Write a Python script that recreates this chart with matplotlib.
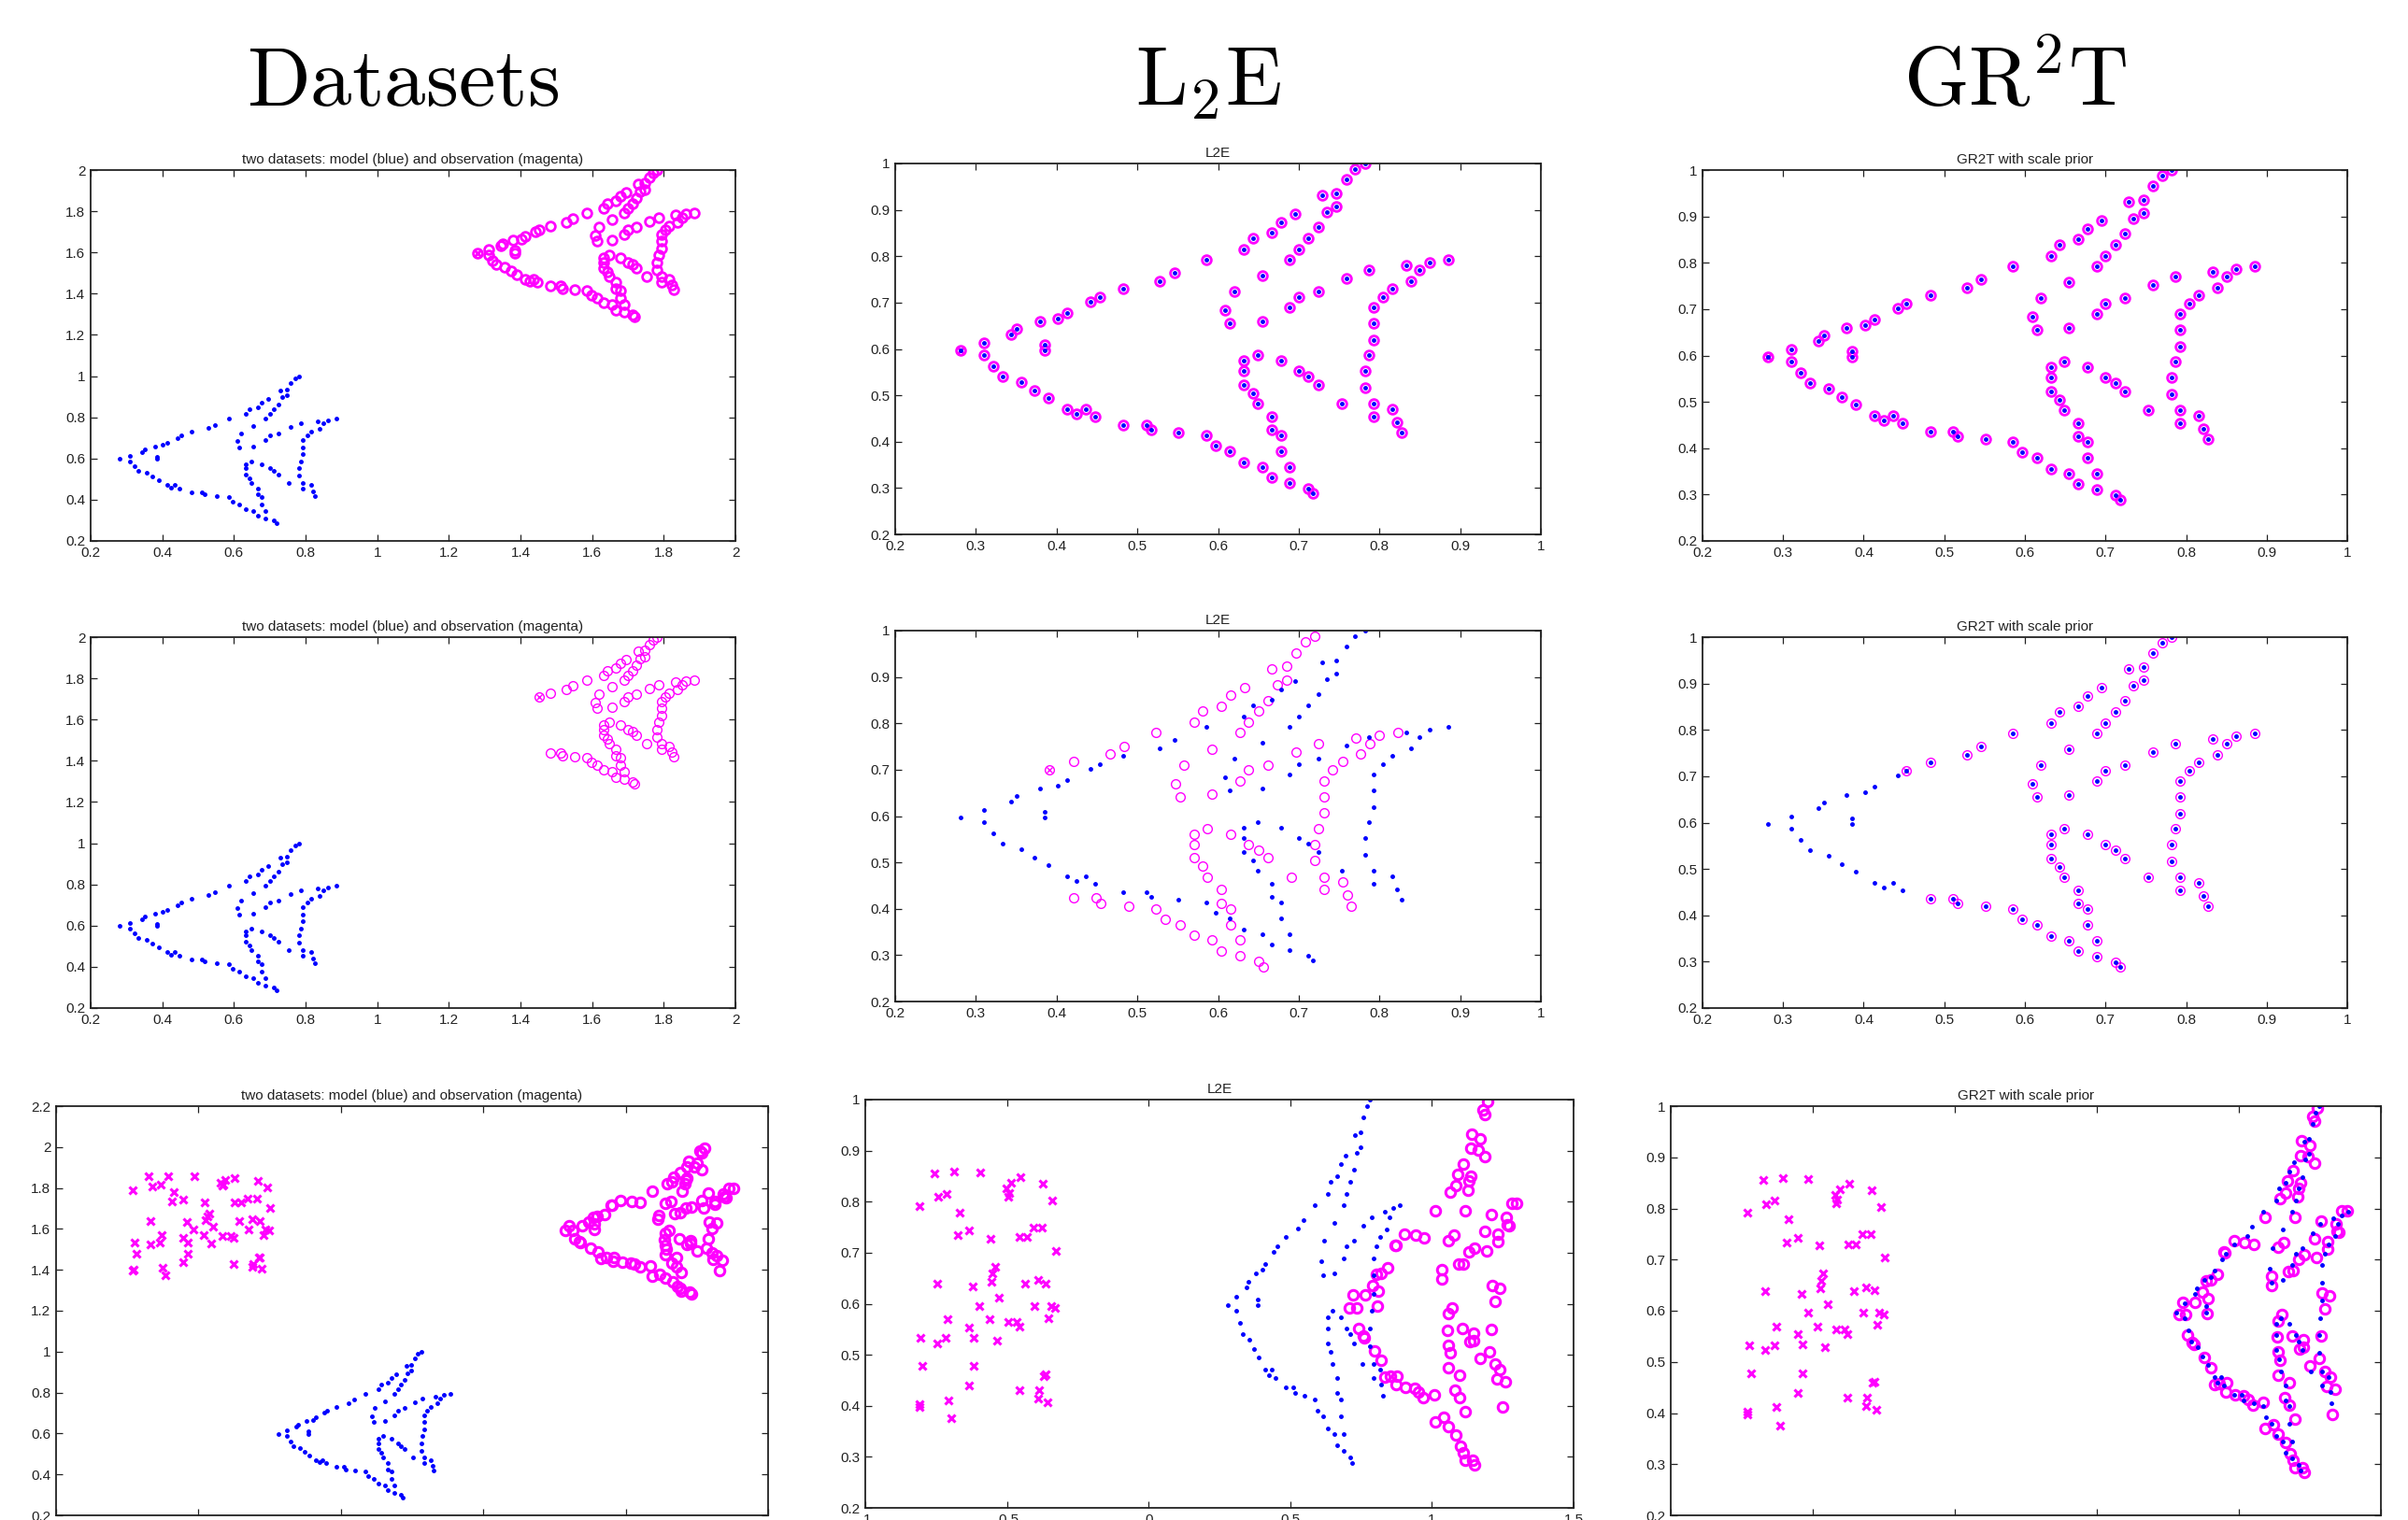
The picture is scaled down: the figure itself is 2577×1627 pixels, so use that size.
import matplotlib
matplotlib.use("Agg")
import matplotlib.pyplot as plt
from matplotlib.ticker import FormatStrFormatter
import numpy as np

plt.rcParams['font.family'] = ['Liberation Sans', 'DejaVu Sans']
plt.rcParams['mathtext.fontset'] = 'cm'

# fish model points (read from the L2E / GR2T panels of row 1)
fish_x = [0.281, 0.310, 0.310, 0.322, 0.333, 0.344, 0.351, 0.356, 0.373, 0.379,
          0.385, 0.385, 0.390, 0.402, 0.413, 0.413, 0.425, 0.436, 0.442, 0.448,
          0.453, 0.483, 0.483, 0.511, 0.517, 0.528, 0.546, 0.551, 0.585, 0.585,
          0.597,
          0.782, 0.770, 0.759, 0.729, 0.747, 0.747, 0.735, 0.695, 0.678, 0.666,
          0.643, 0.632, 0.724, 0.712, 0.700, 0.689, 0.655, 0.620, 0.609, 0.615,
          0.655, 0.689, 0.700, 0.724, 0.759, 0.787, 0.833, 0.850, 0.862, 0.885,
          0.839, 0.816, 0.804, 0.793, 0.793, 0.793, 0.787, 0.782, 0.782, 0.793,
          0.793, 0.816, 0.822, 0.827, 0.753, 0.649, 0.632, 0.632, 0.632, 0.643,
          0.649, 0.666, 0.666, 0.678, 0.678, 0.678, 0.700, 0.712, 0.724, 0.615,
          0.632, 0.655, 0.666, 0.689, 0.689, 0.712, 0.718]
fish_y = [0.597, 0.614, 0.586, 0.562, 0.540, 0.632, 0.643, 0.529, 0.511, 0.660,
          0.609, 0.597, 0.494, 0.666, 0.678, 0.471, 0.460, 0.471, 0.701, 0.454,
          0.712, 0.730, 0.436, 0.436, 0.425, 0.747, 0.764, 0.419, 0.793, 0.413,
          0.391,
          1.000, 0.988, 0.965, 0.931, 0.936, 0.907, 0.896, 0.891, 0.873, 0.850,
          0.839, 0.815, 0.862, 0.839, 0.815, 0.793, 0.758, 0.723, 0.683, 0.655,
          0.660, 0.689, 0.712, 0.723, 0.752, 0.770, 0.781, 0.770, 0.787, 0.793,
          0.746, 0.730, 0.712, 0.689, 0.655, 0.620, 0.586, 0.552, 0.517, 0.482,
          0.454, 0.471, 0.442, 0.419, 0.482, 0.586, 0.574, 0.552, 0.523, 0.505,
          0.482, 0.454, 0.425, 0.413, 0.379, 0.574, 0.552, 0.540, 0.523, 0.379,
          0.356, 0.345, 0.322, 0.345, 0.311, 0.299, 0.288]

# row 2: observation keeps only the fish points right of this x
partial_cut = 0.45

# row 3: noisy observation fish and outliers, as placed in the L2E panel
noisy_x = [1.197, 1.179, 1.188, 1.141, 1.171, 1.136, 1.162, 1.188, 1.110, 1.090,
           1.136, 1.083, 1.131, 1.128, 1.066, 1.012, 1.119, 1.210, 1.283, 1.300,
           1.262, 1.266, 1.271, 1.188, 1.079, 1.059, 1.234, 1.234, 1.193, 0.903,
           0.941, 0.972, 0.869, 0.872, 1.131, 1.150, 1.036, 1.034, 1.093, 1.110,
           0.845, 0.821, 0.805, 0.791, 0.810, 0.721, 0.766, 0.709, 0.734, 0.809,
           1.214, 1.240, 1.222, 1.072, 1.059, 1.055, 1.107, 1.209, 1.059, 1.064,
           1.133, 1.148, 1.148, 0.740, 0.757, 0.762, 0.797, 0.822, 1.171, 1.202,
           1.224, 1.241, 1.228, 1.259, 1.059, 1.097, 0.834, 0.852, 0.878, 0.874,
           0.907, 0.938, 0.952, 0.969, 1.007, 1.081, 1.098, 1.248, 1.012, 1.041,
           1.059, 1.086, 1.116, 1.102, 1.110, 1.116, 1.145, 1.150]
noisy_y = [0.996, 0.979, 0.971, 0.932, 0.923, 0.904, 0.902, 0.888, 0.874, 0.854,
           0.850, 0.831, 0.840, 0.823, 0.819, 0.783, 0.783, 0.775, 0.796, 0.796,
           0.770, 0.755, 0.753, 0.741, 0.734, 0.724, 0.736, 0.721, 0.704, 0.737,
           0.734, 0.729, 0.715, 0.714, 0.701, 0.709, 0.667, 0.649, 0.677, 0.678,
           0.671, 0.660, 0.658, 0.636, 0.624, 0.617, 0.617, 0.592, 0.592, 0.595,
           0.635, 0.630, 0.604, 0.592, 0.580, 0.548, 0.551, 0.550, 0.519, 0.503,
           0.525, 0.543, 0.528, 0.552, 0.537, 0.534, 0.508, 0.489, 0.492, 0.506,
           0.482, 0.471, 0.452, 0.447, 0.474, 0.460, 0.456, 0.458, 0.459, 0.441,
           0.436, 0.434, 0.427, 0.416, 0.421, 0.431, 0.416, 0.397, 0.369, 0.378,
           0.359, 0.343, 0.388, 0.321, 0.308, 0.294, 0.293, 0.284]
outlier_x = [-0.810, -0.755, -0.686, -0.595, -0.743, -0.714, -0.667, -0.672, -0.634, -0.557,
             -0.502, -0.486, -0.497, -0.493, -0.452, -0.455, -0.429, -0.407, -0.376, -0.372,
             -0.340, -0.328, -0.747, -0.621, -0.543, -0.550, -0.555, -0.597, -0.529, -0.436,
             -0.391, -0.364, -0.403, -0.345, -0.331, -0.353, -0.709, -0.634, -0.562, -0.497,
             -0.467, -0.457, -0.617, -0.536, -0.805, -0.716, -0.747, -0.798, -0.617, -0.369,
             -0.364, -0.809, -0.810, -0.707, -0.695, -0.634, -0.457, -0.388, -0.391, -0.357]
outlier_y = [0.791, 0.856, 0.859, 0.857, 0.809, 0.816, 0.779, 0.734, 0.743, 0.728,
             0.826, 0.837, 0.810, 0.817, 0.848, 0.730, 0.730, 0.749, 0.750, 0.835,
             0.803, 0.704, 0.639, 0.633, 0.673, 0.659, 0.643, 0.596, 0.612, 0.639,
             0.646, 0.640, 0.596, 0.596, 0.592, 0.572, 0.569, 0.554, 0.569, 0.564,
             0.564, 0.555, 0.534, 0.528, 0.533, 0.533, 0.523, 0.478, 0.478, 0.459,
             0.461, 0.403, 0.398, 0.411, 0.375, 0.439, 0.430, 0.430, 0.414, 0.406]

# translations of the observation in each panel (dx, dy)
shift_row1 = [(1.0, 1.0), (0.0, 0.0), (0.0, 0.0)]
shift_row2 = [(1.0, 1.0), (-0.062, -0.013), (0.0, 0.0)]
shift_row3 = [(0.58, 1.0), (0.0, 0.0), (-0.42, 0.0)]

col_headers = [r'$\mathrm{Datasets}$', r'$\mathrm{L_2E}$', r'$\mathrm{GR^2T}$']
panel_titles = ['two datasets: model (blue) and observation (magenta)', 'L2E',
                'GR2T with scale prior']

W, H = 2577, 1627
fig = plt.figure(figsize=(W / 100, H / 100), dpi=100)

def make_ax(l, r, t, b):
    return fig.add_axes([l / W, 1 - b / H, (r - l) / W, (b - t) / H])

# pixel boxes: left, right, top, bottom
boxes = [
    [(97, 787, 182, 579), (958, 1649, 175, 572), (1822, 2512, 182, 579)],
    [(97, 787, 682, 1079), (958, 1649, 675, 1072), (1822, 2512, 682, 1079)],
    [(60, 822, 1184, 1622), (926, 1684, 1177, 1614), (1788, 2548, 1184, 1622)],
]

MAG = '#ff00ff'
BLUE = '#0000ff'

def style(ax, xlim, ylim, xstep, ystep):
    ax.set_xlim(*xlim)
    ax.set_ylim(*ylim)
    ax.set_xticks(np.arange(xlim[0], xlim[1] + 1e-9, xstep))
    ax.set_yticks(np.arange(ylim[0], ylim[1] + 1e-9, ystep))
    ax.xaxis.set_major_formatter(FormatStrFormatter('%g'))
    ax.yaxis.set_major_formatter(FormatStrFormatter('%g'))
    ax.tick_params(direction='in', length=5, width=0.9, top=True, right=True,
                   labelsize=11, pad=4, colors='#222222')
    for s in ax.spines.values():
        s.set_linewidth(1.3)
        s.set_color('#222222')

fx = np.array(fish_x)
fy = np.array(fish_y)
keep = fx > partial_cut
px, py = fx[keep], fy[keep]
nx, ny = np.array(noisy_x), np.array(noisy_y)
ox, oy = np.array(outlier_x), np.array(outlier_y)

for r in range(3):
    for c in range(3):
        ax = make_ax(*boxes[r][c])
        ax.set_title(panel_titles[c], fontsize=11, pad=5, color='#222222')
        if r == 0:
            dx, dy = shift_row1[c]
            ax.plot(fx + dx, fy + dy, 'o', mfc='none', mec=MAG, ms=7, mew=2.0)
            ax.plot(fx[0] + dx, fy[0] + dy, 'x', color=MAG, ms=6, mew=2.0)
        elif r == 1:
            dx, dy = shift_row2[c]
            ax.plot(px + dx, py + dy, 'o', mfc='none', mec=MAG, ms=7, mew=1.0)
            ax.plot(px[0] + dx, py[0] + dy, 'x', color=MAG, ms=5, mew=1.0)
        else:
            dx, dy = shift_row3[c]
            ax.plot(nx + dx, ny + dy, 'o', mfc='none', mec=MAG, ms=7.5, mew=2.2)
            ax.plot(ox + dx, oy + dy, 'x', color=MAG, ms=5.5, mew=2.2)
        ax.plot(fx, fy, '.', color=BLUE, ms=5)
        if r < 2:
            if c == 0:
                style(ax, (0.2, 2.0), (0.2, 2.0), 0.2, 0.2)
            else:
                style(ax, (0.2, 1.0), (0.2, 1.0), 0.1, 0.1)
        else:
            if c == 0:
                style(ax, (-0.5, 2.0), (0.2, 2.2), 0.5, 0.2)
            elif c == 1:
                style(ax, (-1.0, 1.5), (0.2, 1.0), 0.5, 0.1)
            else:
                style(ax, (-1.5, 1.0), (0.2, 1.0), 0.5, 0.1)

header_x = [431, 1293, 2156]
for c in range(3):
    fig.text(header_x[c] / W, 1 - 113 / H, col_headers[c], fontsize=64,
             ha='center', va='baseline')

fig.savefig('out.png', dpi=100)
